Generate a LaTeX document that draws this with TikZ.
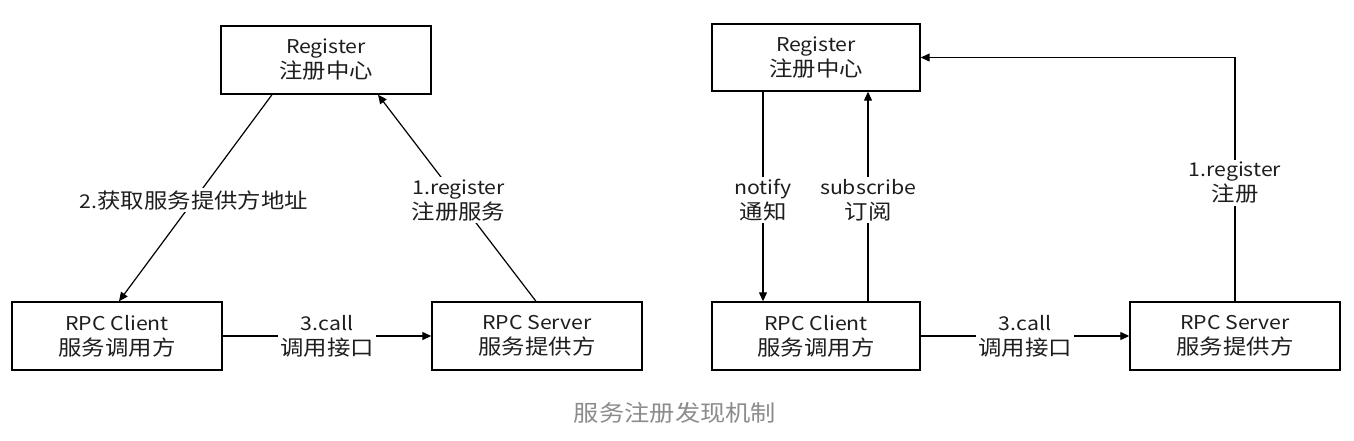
\documentclass[tikz,border=0pt]{standalone}
\usepackage{fontspec}
\setmainfont{Noto Sans CJK SC}[FakeStretch=1.12]
\newfontfamily\cj{Noto Sans CJK SC}[FakeStretch=1.12, Scale=1.1]
\usetikzlibrary{arrows.meta}
\definecolor{txt}{HTML}{1E1E1E}
\definecolor{cap}{HTML}{8C8C8C}
\tikzset{
  box/.style={draw=black, line width=1.4pt, minimum width=210pt, minimum height=68pt,
    inner sep=0pt, align=center, text=txt, font=\fontsize{19}{25}\selectfont},
  conn/.style={draw=black, line width=1.2pt, -{Triangle[length=9pt,width=8pt]}},
  lbl/.style={fill=white, inner sep=2pt, align=center, text=txt, font=\fontsize{19}{25}\selectfont},
}
\begin{document}
\begin{tikzpicture}[x=1pt,y=-1pt]
\fill[white] (0,0) rectangle (1354,440);
\useasboundingbox (0,0) rectangle (1354,440);
% left diagram
\node[box] (regL) at (326,60) {Register\\{\cj 注册中心}};
\node[box] (cliL) at (117,336) {RPC Client\\{\cj 服务调用方}};
\node[box] (srvL) at (537,336) {RPC Server\\{\cj 服务提供方}};
\draw[conn] ([xshift=-54pt]regL.south) -- node[lbl, pos=0.51] {2.{\cj 获取服务提供方地址}} ([xshift=2pt]cliL.north);
\draw[conn] ([xshift=-1pt]srvL.north) -- node[lbl, pos=0.49] {1.register\\{\cj 注册服务}} ([xshift=52pt]regL.south);
\draw[conn] (cliL.east) -- node[lbl] {3.call\\{\cj 调用接口}} (srvL.west);
% right diagram
\node[box, minimum width=208pt, minimum height=67pt] (regR) at (816,57.5) {Register\\{\cj 注册中心}};
\node[box, minimum width=208pt] (cliR) at (816,336) {RPC Client\\{\cj 服务调用方}};
\node[box] (srvR) at (1235,336) {RPC Server\\{\cj 服务提供方}};
\draw[conn] ([xshift=-53pt]regR.south) -- node[lbl, pos=0.517] {notify\\{\cj 通知}} ([xshift=-53pt]cliR.north);
\draw[conn] ([xshift=52pt]cliR.north) -- node[lbl, pos=0.483] {subscribe\\{\cj 订阅}} ([xshift=52pt]regR.south);
\draw[conn] (srvR.north) |- node[lbl, pos=0.243] {1.register\\{\cj 注册}} (regR.east);
\draw[conn] (cliR.east) -- node[lbl] {3.call\\{\cj 调用接口}} (srvR.west);
% caption
\node[text=cap, inner sep=0pt, font=\fontsize{20.5}{26}\selectfont] (caption) at (675,413) {\cj 服务注册发现机制};
\end{tikzpicture}
\end{document}
